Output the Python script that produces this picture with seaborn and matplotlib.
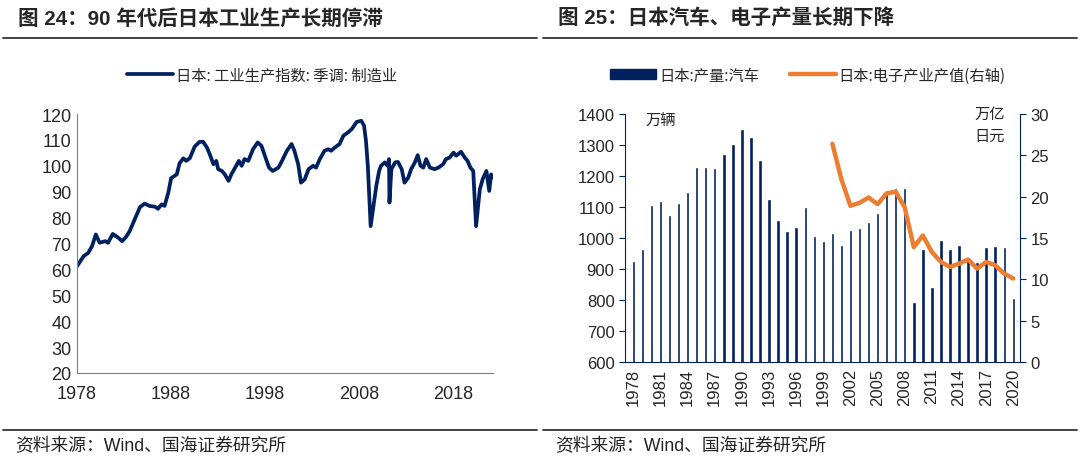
import numpy as np
import pandas as pd
import seaborn as sns
import matplotlib.pyplot as plt
from matplotlib.lines import Line2D
from matplotlib.patches import Patch

sns.set_style("white")
plt.rcParams['font.family'] = ['Liberation Sans', 'Noto Sans CJK SC', 'DejaVu Sans']
plt.rcParams['axes.unicode_minus'] = False

NAVY = '#002060'
ORANGE = '#ED7D31'
GRAY = '#808080'
CJK = ['Noto Sans CJK SC']
MIXED = ['Liberation Sans', 'Noto Sans CJK SC']

# 图24: 日本工业生产指数(季调, 制造业)
ip_year = [1978.0, 1978.7, 1979.2, 1979.6, 1980.0, 1980.4, 1981.0, 1981.3, 1981.8, 1982.4,
           1982.8, 1983.2, 1983.6, 1984.2, 1984.7, 1985.2, 1985.7, 1986.3, 1986.6, 1987.0,
           1987.3, 1987.7, 1988.0, 1988.6, 1988.9, 1989.3, 1989.6, 1990.0, 1990.5, 1991.0,
           1991.4, 1991.8, 1992.1, 1992.5, 1992.8, 1993.0, 1993.4, 1993.7, 1994.1, 1994.4,
           1994.8, 1995.2, 1995.5, 1995.8, 1996.2, 1996.7, 1997.2, 1997.6, 1997.9, 1998.4,
           1998.8, 1999.4, 1999.7, 2000.3, 2000.8, 2001.1, 2001.5, 2001.8, 2002.2, 2002.6,
           2003.1, 2003.4, 2003.8, 2004.3, 2004.7, 2005.0, 2005.4, 2005.9, 2006.3, 2006.8,
           2007.2, 2007.7, 2008.2, 2008.5, 2008.7, 2008.9, 2009.2, 2009.5, 2009.8, 2010.1,
           2010.3, 2010.7, 2011.0, 2011.15, 2011.2, 2011.4, 2011.8, 2012.1, 2012.5, 2012.8,
           2013.2, 2013.5, 2013.9, 2014.2, 2014.5, 2014.8, 2015.1, 2015.5, 2016.0, 2016.4,
           2016.9, 2017.2, 2017.6, 2018.0, 2018.3, 2018.8, 2019.2, 2019.5, 2019.8, 2020.1,
           2020.4, 2020.8, 2021.1, 2021.5, 2021.8, 2022.0, 2022.1]
ip_value = [61.2, 65.1, 66.4, 69.0, 73.5, 70.3, 70.9, 70.3, 73.7, 72.2,
            70.9, 72.5, 74.8, 79.9, 84.1, 85.4, 84.5, 84.2, 83.4, 85.1,
            84.5, 89.6, 95.2, 96.7, 101.0, 102.9, 101.9, 103.0, 107.4, 109.2,
            109.3, 107.1, 104.5, 100.6, 101.9, 98.7, 98.0, 96.7, 94.2, 96.7,
            99.3, 101.9, 100.0, 102.6, 101.9, 106.4, 109.0, 107.7, 104.5, 99.3,
            98.0, 99.3, 101.3, 105.8, 108.4, 105.8, 100.6, 93.5, 94.8, 98.7,
            100.0, 99.3, 102.6, 105.8, 106.4, 105.8, 107.1, 108.4, 111.6, 112.9,
            114.2, 116.9, 117.4, 115.5, 109.7, 100.0, 76.7, 84.5, 92.2, 98.0,
            100.0, 101.3, 100.0, 102.6, 85.8, 98.7, 101.3, 101.5, 98.7, 93.5,
            95.5, 98.7, 101.3, 104.1, 100.0, 99.3, 102.6, 99.3, 98.7, 99.3,
            100.6, 102.6, 103.2, 105.1, 103.9, 105.4, 103.2, 101.9, 99.3, 98.0,
            76.7, 90.9, 94.8, 98.0, 90.3, 96.7, 95.5]
ip_ticks = [1978, 1988, 1998, 2008, 2018]

# 图25: 日本汽车产量(万辆) 与 电子产业产值(万亿日元)
car_years = list(range(1978, 2021))
car_output = [927, 965, 1105, 1119, 1075, 1112, 1148, 1229, 1228, 1226,
              1272, 1304, 1351, 1326, 1252, 1125, 1057, 1021, 1036, 1099,
              1006, 990, 1016, 979, 1027, 1031, 1053, 1081, 1147, 1162,
              1160, 795, 965, 842, 995, 965, 979, 928, 922, 970,
              975, 970, 808]
elec_years = list(range(2000, 2021))
elec_output = [26.4, 22.1, 18.9, 19.25, 19.9, 19.1, 20.4, 20.6, 18.7, 13.9,
               15.3, 13.3, 12.1, 11.5, 11.9, 12.4, 11.3, 12.1, 11.7, 10.7, 10.1]

fig = plt.figure(figsize=(10.8, 4.64), dpi=100)

# 标题与分隔线
fig.text(18 / 1080, 1 - 19 / 464, '图 24：90 年代后日本工业生产长期停滞', fontsize=14.8,
         fontweight='bold', va='center', ha='left', family=MIXED)
fig.text(558 / 1080, 1 - 19 / 464, '图 25：日本汽车、电子产量长期下降', fontsize=14.8,
         fontweight='bold', va='center', ha='left', family=MIXED)
for x0, x1 in [(3, 537), (543, 1077)]:
    fig.add_artist(Line2D([x0 / 1080, x1 / 1080], [1 - 39 / 464] * 2, color='#333333', lw=1.3))
    fig.add_artist(Line2D([x0 / 1080, x1 / 1080], [1 - 431 / 464] * 2, color='#333333', lw=1.3))
for xs in (15, 555):
    fig.text(xs / 1080, 1 - 447 / 464, '资料来源：Wind、国海证券研究所', fontsize=12.8,
             va='center', ha='left', family=MIXED, color='#222222')

# 左图
ax1 = fig.add_axes([77 / 1080, 1 - 374 / 464, 416 / 1080, 259 / 464])
df_ip = pd.DataFrame({'year': ip_year, 'value': ip_value})
sns.lineplot(data=df_ip, x='year', y='value', ax=ax1, color=NAVY, lw=2.7)
ax1.set_xlim(1978, 2022.2)
ax1.set_ylim(20, 120)
ax1.set_yticks(range(20, 121, 10))
ax1.set_xticks(ip_ticks)
ax1.set_xlabel('')
ax1.set_ylabel('')
for s in ['top', 'right']:
    ax1.spines[s].set_visible(False)
for s in ['left', 'bottom']:
    ax1.spines[s].set_color(GRAY)
ax1.tick_params(axis='both', direction='in', length=4, color=GRAY, labelsize=13, pad=4)
ax1.tick_params(axis='x', pad=9)
ax1.legend(handles=[Line2D([], [], color=NAVY, lw=2.7)], labels=['日本: 工业生产指数: 季调: 制造业'],
           loc='center', bbox_to_anchor=(262 / 1080, 1 - 76 / 464), bbox_transform=fig.transFigure,
           frameon=False, prop={'family': CJK, 'size': 11},
           handlelength=3.0, handletextpad=0.2)

# 右图
ax2 = fig.add_axes([625 / 1080, 1 - 363 / 464, 395 / 1080, 248 / 464])
df_car = pd.DataFrame({'year': [str(y) for y in car_years], 'output': car_output})
sns.barplot(data=df_car, x='year', y='output', ax=ax2, color=NAVY, width=0.38, saturation=1)
ax2.set_ylim(600, 1400)
ax2.set_yticks(range(600, 1401, 100))
ax2.set_xlabel('')
ax2.set_ylabel('')
pos = list(range(0, len(car_years), 3))
ax2.set_xticks(pos)
ax2.set_xticklabels([str(car_years[i]) for i in pos], rotation=90)
ax2.set_xticks([p - 0.5 for p in pos], minor=True)
ax2.tick_params(axis='x', which='major', length=0, labelsize=12, pad=4)
ax2.tick_params(axis='x', which='minor', length=4, direction='out', color=NAVY)
ax2.tick_params(axis='y', length=4, direction='out', color=NAVY, labelsize=12)
for s in ['top', 'right']:
    ax2.spines[s].set_visible(False)
for s in ['left', 'bottom']:
    ax2.spines[s].set_color(NAVY)

ax3 = ax2.twinx()
elec_pos = [car_years.index(y) for y in elec_years]
sns.lineplot(x=elec_pos, y=elec_output, ax=ax3, color=ORANGE, lw=3.2)
ax3.set_ylim(0, 30)
ax3.set_yticks(range(0, 31, 5))
ax3.set_ylabel('')
for s in ['top', 'left', 'bottom']:
    ax3.spines[s].set_visible(False)
ax3.spines['right'].set_color(NAVY)
ax3.tick_params(axis='y', length=4, direction='out', color=NAVY, labelsize=12)
ax2.set_xlim(-0.92, 42.74)

fig.text(645 / 1080, 1 - 121 / 464, '万辆', fontsize=11, va='center', ha='left', family=CJK)
fig.text(1005 / 1080, 1 - 114 / 464, '万亿', fontsize=11, va='center', ha='right', family=CJK)
fig.text(1005 / 1080, 1 - 136 / 464, '日元', fontsize=11, va='center', ha='right', family=CJK)

ax2.legend(handles=[Patch(color=NAVY), Line2D([], [], color=ORANGE, lw=3.2)],
           labels=['日本:产量:汽车', '日本:电子产业产值(右轴)'],
           loc='center', bbox_to_anchor=(808 / 1080, 1 - 76 / 464), bbox_transform=fig.transFigure,
           frameon=False, ncol=2, prop={'family': CJK, 'size': 11},
           handlelength=3.0, handleheight=0.6, handletextpad=0.2, columnspacing=2.0)

fig.savefig('out.png', dpi=100)
